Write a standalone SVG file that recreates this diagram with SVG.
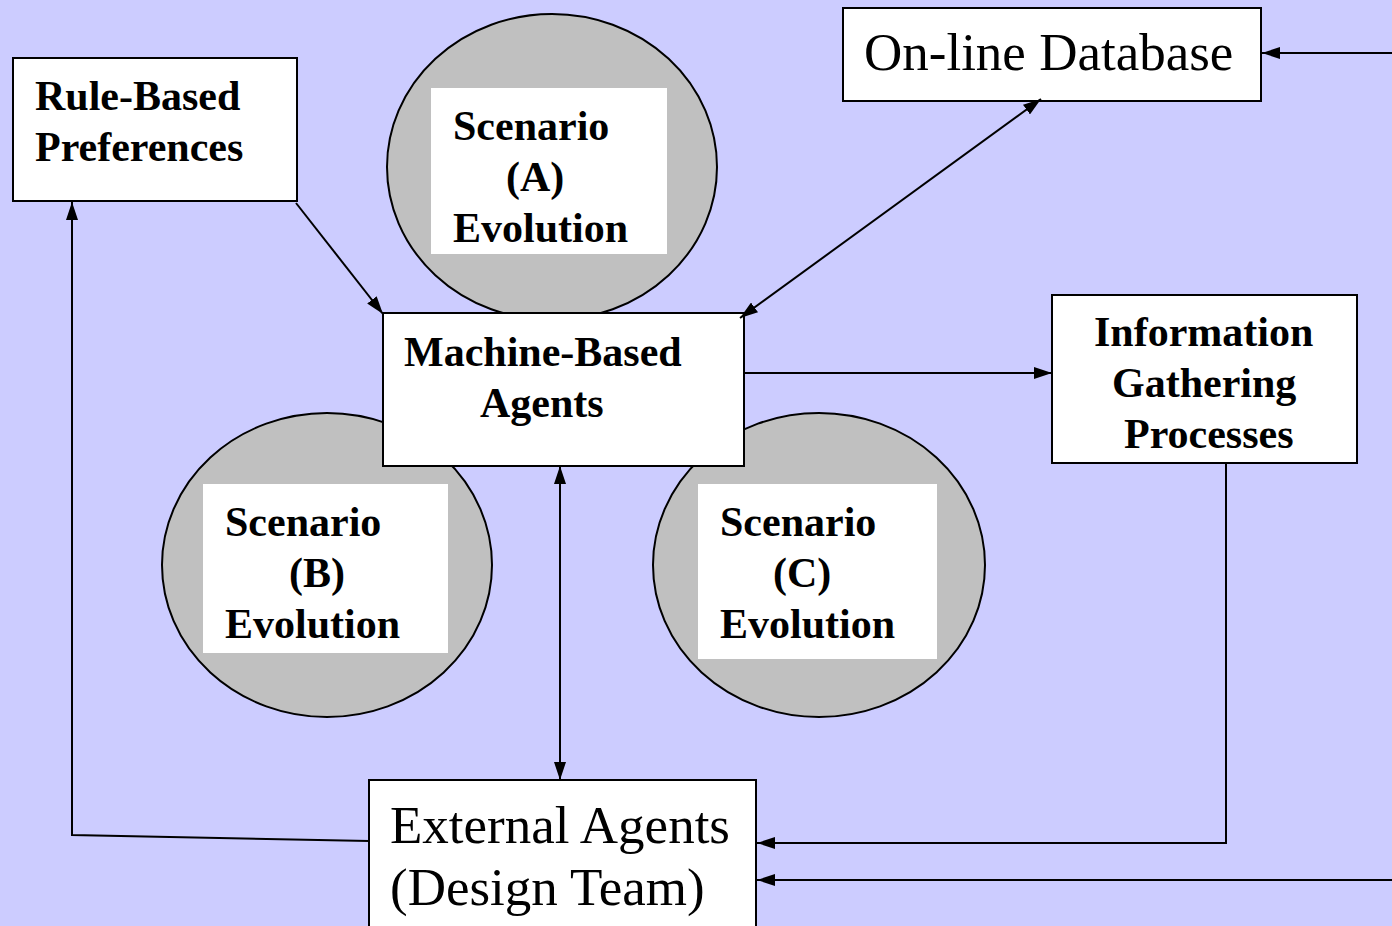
<svg xmlns="http://www.w3.org/2000/svg" width="1392" height="926" viewBox="0 0 1392 926">
  <style>
    .box { fill: #ffffff; stroke: #000000; stroke-width: 2; }
    .oval { fill: #c0c0c0; stroke: #000000; stroke-width: 2; }
    .pad { fill: #ffffff; stroke: none; }
    .bold { font-family: 'Liberation Serif', Tinos, 'Times New Roman', serif; font-weight: 700; font-size: 42px; fill: #000000; }
    .plain { font-family: 'Liberation Serif', Tinos, 'Times New Roman', serif; font-weight: 400; font-size: 53px; fill: #000000; }
    .link { fill: none; stroke: #000000; stroke-width: 2; }
  </style>
  <defs>
    <marker id="head" viewBox="0 0 18 12" refX="18" refY="6" markerWidth="18" markerHeight="12" markerUnits="userSpaceOnUse" orient="auto-start-reverse">
      <path d="M0,0 L18,6 L0,12 Z" fill="#000000"/>
    </marker>
  </defs>

  <rect width="1392" height="926" fill="#ccccff"/>

  <g id="scenario-a">
    <ellipse class="oval" cx="552" cy="167" rx="165" ry="153"/>
    <rect class="pad" x="431" y="88" width="236" height="166"/>
    <text class="bold" x="453" y="140">Scenario</text>
    <text class="bold" x="506" y="191">(A)</text>
    <text class="bold" x="453" y="242">Evolution</text>
  </g>

  <g id="scenario-b">
    <ellipse class="oval" cx="327" cy="565" rx="165" ry="152"/>
    <rect class="pad" x="203" y="484" width="245" height="169"/>
    <text class="bold" x="225" y="536">Scenario</text>
    <text class="bold" x="289" y="587">(B)</text>
    <text class="bold" x="225" y="638">Evolution</text>
  </g>

  <g id="scenario-c">
    <ellipse class="oval" cx="819" cy="565" rx="166" ry="152"/>
    <rect class="pad" x="698" y="484" width="239" height="175"/>
    <text class="bold" x="720" y="536">Scenario</text>
    <text class="bold" x="773" y="587">(C)</text>
    <text class="bold" x="720" y="638">Evolution</text>
  </g>

  <g id="rule-based-preferences">
    <rect class="box" x="13" y="58" width="284" height="143"/>
    <text class="bold" x="35" y="110">Rule-Based</text>
    <text class="bold" x="35" y="161">Preferences</text>
  </g>

  <g id="machine-based-agents">
    <rect class="box" x="383" y="313" width="361" height="153"/>
    <text class="bold" x="404" y="366">Machine-Based</text>
    <text class="bold" x="480" y="417">Agents</text>
  </g>

  <g id="online-database">
    <rect class="box" x="843" y="8" width="418" height="93"/>
    <text class="plain" x="864" y="70">On-line Database</text>
  </g>

  <g id="information-gathering">
    <rect class="box" x="1052" y="295" width="305" height="168"/>
    <text class="bold" x="1094" y="346">Information</text>
    <text class="bold" x="1112" y="397">Gathering</text>
    <text class="bold" x="1124" y="448">Processes</text>
  </g>

  <g id="external-agents">
    <rect class="box" x="369" y="780" width="387" height="160"/>
    <text class="plain" x="390" y="843">External Agents</text>
    <text class="plain" x="390" y="905">(Design Team)</text>
  </g>

  <g id="connectors">
    <line class="link" x1="296" y1="203" x2="383" y2="314" marker-end="url(#head)"/>
    <line class="link" x1="1041" y1="99" x2="740" y2="318" marker-start="url(#head)" marker-end="url(#head)"/>
    <line class="link" x1="1392" y1="53" x2="1262" y2="53" marker-end="url(#head)"/>
    <line class="link" x1="744" y1="373" x2="1052" y2="373" marker-end="url(#head)"/>
    <line class="link" x1="560" y1="466" x2="560" y2="780" marker-start="url(#head)" marker-end="url(#head)"/>
    <polyline class="link" points="1226,463 1226,843 757,843" marker-end="url(#head)"/>
    <line class="link" x1="1392" y1="880" x2="757" y2="880" marker-end="url(#head)"/>
    <polyline class="link" points="369,841 72,835 72,202" marker-end="url(#head)"/>
  </g>
</svg>
